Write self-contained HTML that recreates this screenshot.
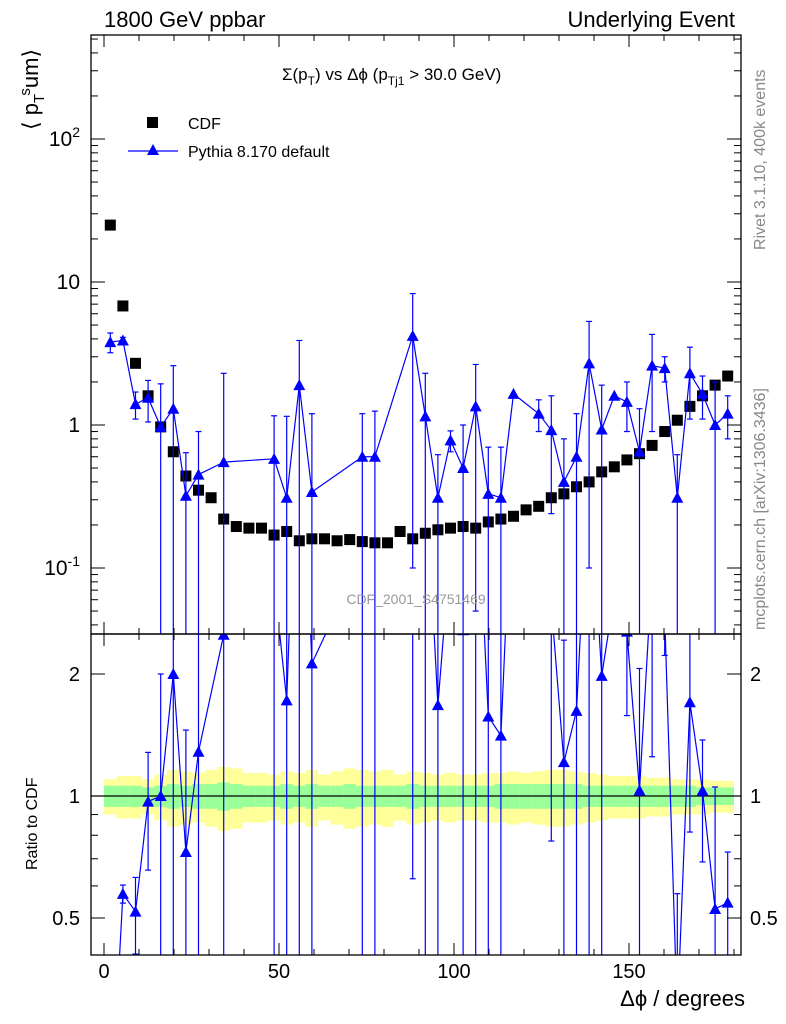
<!DOCTYPE html>
<html><head><meta charset="utf-8"><style>
html,body{margin:0;background:#fff;overflow:hidden;width:786px;height:1024px;}
svg{display:block;}
svg text{font-family:"Liberation Sans",sans-serif;}
</style></head><body>
<svg id="c" width="786" height="1024" xmlns="http://www.w3.org/2000/svg">
<defs>
<clipPath id="cpTop"><rect x="91" y="35" width="650" height="599"/></clipPath>
<clipPath id="cpBot"><rect x="91" y="634" width="650" height="321"/></clipPath>
</defs>
<g id="bands" clip-path="url(#cpBot)"></g>
<g id="topMarks" clip-path="url(#cpTop)"></g>
<g id="botMarks" clip-path="url(#cpBot)"></g>
<g id="axes"></g>
<text x="104" y="27" font-size="22">1800 GeV ppbar</text>
<text x="735" y="27" font-size="22" text-anchor="end">Underlying Event</text>
<text x="282" y="80" font-size="17">Σ(p<tspan font-size="12" dy="5">T</tspan><tspan dy="-5">) vs Δϕ (p</tspan><tspan font-size="12" dy="5">Tj1</tspan><tspan dy="-5"> &gt; 30.0 GeV)</tspan></text>
<text transform="translate(38,130) rotate(-90)" font-size="22">⟨ p<tspan font-size="15" dy="6">T</tspan><tspan font-size="15" dy="-14">s</tspan><tspan dy="8">um⟩</tspan></text>
<text transform="translate(37,870) rotate(-90)" font-size="16">Ratio to CDF</text>
<text x="745" y="1006" font-size="22" text-anchor="end">Δϕ / degrees</text>
<text x="416" y="604" font-size="14" fill="#999" text-anchor="middle">CDF_2001_S4751469</text>
<text transform="translate(765,250) rotate(-90)" font-size="16" fill="#888">Rivet 3.1.10,  400k events</text>
<text transform="translate(765,630) rotate(-90)" font-size="16" fill="#888">mcplots.cern.ch [arXiv:1306.3436]</text>
<g>
<rect x="147" y="117" width="11" height="11" fill="#000"/>
<text x="188" y="129" font-size="16">CDF</text>
<line x1="128" y1="151" x2="178" y2="151" stroke="#00f" stroke-width="1.3"/>
<polygon points="153,144 159,155 147,155" fill="#00f"/>
<text x="188" y="157" font-size="16">Pythia 8.170 default</text>
</g>
</svg>
<script>
const cdfVals=[25,6.8,2.7,1.6,0.97,0.65,0.44,0.35,0.31,0.22,0.195,0.19,0.19,0.17,0.18,0.155,0.16,0.16,0.155,0.158,0.153,0.15,0.15,0.18,0.16,0.175,0.185,0.19,0.195,0.19,0.21,0.22,0.23,0.255,0.27,0.31,0.33,0.37,0.4,0.47,0.51,0.57,0.63,0.72,0.9,1.08,1.35,1.6,1.9,2.2];
const pyBins=[0,1,2,3,4,5,6,7,9,13,14,15,16,20,21,24,25,26,27,28,29,30,31,32,34,35,36,37,38,39,40,41,42,43,44,45,46,47,48,49];
const pyVals=[3.8,3.9,1.4,1.55,0.97,1.3,0.32,0.45,0.55,0.58,0.31,1.9,0.34,0.6,0.6,4.2,1.15,0.31,0.78,0.5,1.35,0.33,0.31,1.65,1.2,0.92,0.4,0.6,2.7,0.93,1.6,1.45,0.65,2.6,2.5,0.31,2.3,1.65,1.0,1.2];
const pyErrs=[0.6,0.2,0.3,0.5,0.97,1.3,0.32,0.45,1.75,0.58,0.84,2.0,0.86,0.6,0.65,4.1,1.15,0.31,0.13,0.5,1.3,0.37,0.39,0,0.3,0.68,0.4,0.6,2.6,0.97,0,0.55,0.65,1.7,0.5,0.31,1.2,0.55,1.0,0.4];
const greenUnc=[0.06,0.06,0.06,0.05,0.06,0.07,0.06,0.07,0.07,0.08,0.07,0.06,0.06,0.06,0.07,0.06,0.07,0.06,0.06,0.07,0.06,0.06,0.06,0.06,0.07,0.06,0.06,0.06,0.06,0.06,0.06,0.07,0.07,0.07,0.07,0.07,0.07,0.07,0.06,0.06,0.06,0.06,0.06,0.06,0.06,0.06,0.06,0.05,0.05,0.05];
const yellowUnc=[0.1,0.12,0.12,0.1,0.13,0.16,0.15,0.14,0.16,0.18,0.17,0.14,0.14,0.13,0.15,0.14,0.16,0.13,0.15,0.17,0.16,0.15,0.16,0.13,0.15,0.14,0.13,0.14,0.13,0.13,0.14,0.14,0.15,0.14,0.15,0.16,0.16,0.15,0.14,0.13,0.12,0.12,0.12,0.11,0.11,0.1,0.1,0.1,0.09,0.09];
const xTicks=[0,50,100,150];
const topTicks=[{v:0.1,l:"10^-1"},{v:1,l:"1"},{v:10,l:"10"},{v:100,l:"10^2"}];
const ratioTicks=[0.5,1,2];

const NS="http://www.w3.org/2000/svg";
const X0=91,X1=741,TT=35,TB=634,BT=634,BB=955;
const xs=v=>104+v*3.5;
const ys=v=>425-143*Math.log10(v);
const yr=v=>796-122*Math.log2(v);
const binC=i=>1.8+3.6*i;
function mk(p,tag,a){const e=document.createElementNS(NS,tag);for(const k in a)e.setAttribute(k,a[k]);p.appendChild(e);return e;}
const bands=document.getElementById('bands'),tm=document.getElementById('topMarks'),bm=document.getElementById('botMarks'),ax=document.getElementById('axes');
cdfVals.forEach((v,i)=>{
  const x0=xs(binC(i)-1.8),w=3.5*3.6;
  let r=mk(bands,'rect',{x:x0,y:yr(1+yellowUnc[i]),width:w,height:yr(1-yellowUnc[i])-yr(1+yellowUnc[i]),fill:'#ffff99'});
  
  
  r=mk(bands,'rect',{x:x0,y:yr(1+greenUnc[i]),width:w,height:yr(1-greenUnc[i])-yr(1+greenUnc[i]),fill:'#99ff99'});
  
  
});
let l=mk(bands,'line',{x1:X0,x2:X1,y1:yr(1),y2:yr(1),stroke:'#000','stroke-width':1.3});


cdfVals.forEach((v,i)=>{
  const s=mk(tm,'rect',{x:xs(binC(i))-5.5,y:ys(v)-5.5,width:11,height:11,fill:'#000'});
  
  
});
function drawPy(g,yf,ratio){
  const bottom=ratio?BB:TB;
  const pts=pyBins.map((b,j)=>{const c=ratio?cdfVals[b]:1;return [xs(binC(b)),pyVals[j]/c,pyErrs[j]/c];});
  const P=pts.map(p=>[p[0],yf(p[1])]);
  // clip the line at the bottom edge
  let d='';
  for(let i=0;i<P.length-1;i++){
    let [ax1,ay1]=P[i],[bx,by]=P[i+1];
    if(ay1>bottom&&by>bottom)continue;
    if(ay1>bottom){const t=(bottom-by)/(ay1-by);ax1=bx+(ax1-bx)*t;ay1=bottom;}
    if(by>bottom){const t=(bottom-ay1)/(by-ay1);bx=ax1+(bx-ax1)*t;by=bottom;}
    d+=`M${ax1},${ay1}L${bx},${by}`;
  }
  const pl=mk(g,'path',{d:d,fill:'none',stroke:'#00f','stroke-width':1.2});
  
  
  pts.forEach(p=>{
    if(p[2]>0){const lo=p[1]-p[2];const y2=lo>0.0001?Math.min(yf(lo),bottom):bottom;
      const y1=yf(p[1]+p[2]);
      if(y1<bottom){
      const e=mk(g,'line',{x1:p[0],x2:p[0],y1:y1,y2:y2,stroke:'#00f','stroke-width':1.2});
      
      
      mk(g,'line',{x1:p[0]-3,x2:p[0]+3,y1:y1,y2:y1,stroke:'#00f','stroke-width':1.2});
      if(lo>0.0001&&yf(lo)<bottom)mk(g,'line',{x1:p[0]-3,x2:p[0]+3,y1:y2,y2:y2,stroke:'#00f','stroke-width':1.2});}}
    const y=yf(p[1]);
    if(y>bottom) return;
    const t=mk(g,'polygon',{points:`${p[0]},${y-6} ${p[0]+6},${y+5} ${p[0]-6},${y+5}`,fill:'#00f'});
    
    
  });
}
drawPy(tm,ys,false);drawPy(bm,yr,true);
[[TT,TB],[BT,BB]].forEach(([a,b],k)=>{
  const f=mk(ax,'rect',{x:X0,y:a,width:X1-X0,height:b-a,fill:'none',stroke:'#000','stroke-width':1.3});
  
  
  for(let v=0;v<=180;v+=10){const x=xs(v),L=v%50==0?12:6;
    mk(ax,'line',{x1:x,x2:x,y1:b,y2:b-L,stroke:'#000'});mk(ax,'line',{x1:x,x2:x,y1:a,y2:a+L,stroke:'#000'});}
});
xTicks.forEach(v=>{const t=mk(ax,'text',{x:xs(v),y:978,'font-size':20,'text-anchor':'middle'});t.textContent=v;
  
  });
for(let d=-2;d<=2;d++)for(let m=1;m<10;m++){const y=ys(m*Math.pow(10,d));if(y<TT||y>TB)continue;const L=m==1?14:7;
  mk(ax,'line',{x1:X0,x2:X0+L,y1:y,y2:y,stroke:'#000'});mk(ax,'line',{x1:X1,x2:X1-L,y1:y,y2:y,stroke:'#000'});}
topTicks.forEach(o=>{const t=mk(ax,'text',{x:80,y:ys(o.v)+7,'font-size':21,'text-anchor':'end'});
  const p=o.l.split('^');t.textContent=p[0];if(p[1]){const s=mk(t,'tspan',{'font-size':14,dy:-9});s.textContent=p[1];}
  
  });
[0.5,0.6,0.7,0.8,0.9,1,2].forEach(v=>{const y=yr(v),L=(v==0.5||v==1||v==2)?14:7;
  mk(ax,'line',{x1:X0,x2:X0+L,y1:y,y2:y,stroke:'#000'});mk(ax,'line',{x1:X1,x2:X1-L,y1:y,y2:y,stroke:'#000'});});
ratioTicks.forEach(v=>{[[80,'end'],[750,'start']].forEach(([x,a])=>{const t=mk(ax,'text',{x:x,y:yr(v)+7,'font-size':20,'text-anchor':a});t.textContent=v;
  
  });});
</script>
</body></html>
